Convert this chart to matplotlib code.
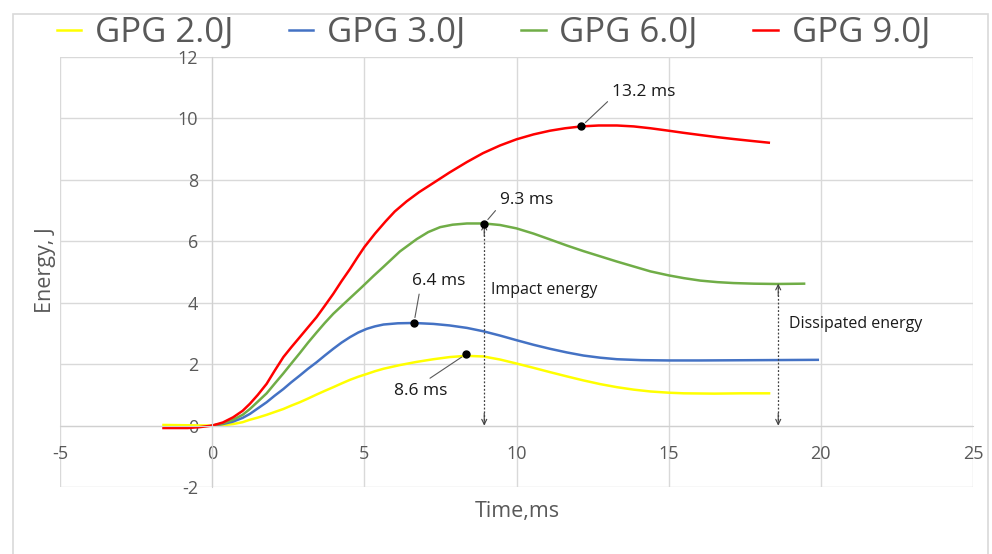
import matplotlib
matplotlib.use('Agg')
import matplotlib.pyplot as plt
from matplotlib.patches import Rectangle

plt.rcParams['font.family'] = ['Open Sans', 'DejaVu Sans']
plt.rcParams['axes.unicode_minus'] = False

# curves (time in ms, energy in J)
yellow_t = [-1.6, -0.8, 0, 0.35, 0.69, 1.0, 1.24, 1.5, 1.79, 2.05, 2.34, 2.6, 2.88, 3.15, 3.43,
            3.7, 3.98, 4.25, 4.53, 4.8, 5.08, 5.35, 5.63, 6.17, 6.7, 7.27, 7.8, 8.35, 8.91, 9.46,
            10.0, 10.56, 11.1, 11.66, 12.2, 12.75, 13.3, 13.85, 14.4, 15.0, 15.5, 16.5, 17.4, 18.3]
yellow_e = [0.02, 0.01, 0, 0.01, 0.05, 0.11, 0.19, 0.26, 0.35, 0.44, 0.54, 0.65, 0.76, 0.88, 1.01,
            1.13, 1.25, 1.37, 1.49, 1.59, 1.68, 1.77, 1.85, 1.97, 2.07, 2.16, 2.23, 2.27, 2.25, 2.15,
            2.02, 1.88, 1.74, 1.60, 1.47, 1.35, 1.25, 1.17, 1.11, 1.07, 1.05, 1.04, 1.05, 1.05]

blue_t = [0, 0.35, 0.69, 1.0, 1.24, 1.5, 1.79, 2.05, 2.34, 2.6, 2.88, 3.15, 3.43, 3.7, 3.98,
          4.25, 4.53, 4.8, 5.08, 5.35, 5.63, 6.1, 6.63, 7.27, 7.8, 8.37, 8.91, 9.46, 10.0, 10.56,
          11.1, 11.66, 12.2, 12.75, 13.3, 14.1, 15.0, 16.0, 18.0, 19.9]
blue_e = [0, 0.05, 0.13, 0.25, 0.38, 0.56, 0.76, 0.97, 1.19, 1.41, 1.63, 1.85, 2.06, 2.28, 2.50,
          2.70, 2.88, 3.03, 3.15, 3.23, 3.29, 3.33, 3.34, 3.31, 3.26, 3.18, 3.07, 2.93, 2.78, 2.63,
          2.50, 2.38, 2.28, 2.21, 2.16, 2.13, 2.12, 2.12, 2.13, 2.14]

green_t = [0, 0.35, 0.69, 1.0, 1.24, 1.5, 1.79, 2.05, 2.34, 2.6, 2.88, 3.15, 3.43, 3.7, 3.98,
           4.4, 4.91, 5.3, 5.63, 6.17, 6.72, 7.1, 7.49, 7.9, 8.37, 8.94, 9.46, 10.0, 10.56, 11.1,
           11.66, 12.2, 12.75, 13.3, 13.85, 14.4, 15.0, 15.5, 16.04, 16.6, 17.13, 17.8, 18.55, 19.45]
green_e = [0, 0.07, 0.19, 0.35, 0.54, 0.78, 1.05, 1.36, 1.7, 2.02, 2.36, 2.7, 3.03, 3.34, 3.64,
           4.03, 4.5, 4.87, 5.17, 5.67, 6.07, 6.3, 6.46, 6.54, 6.58, 6.58, 6.53, 6.42, 6.25, 6.06,
           5.86, 5.68, 5.51, 5.34, 5.18, 5.02, 4.89, 4.8, 4.72, 4.67, 4.64, 4.62, 4.61, 4.62]

red_t = [-1.6, -0.8, -0.4, 0, 0.35, 0.69, 1.0, 1.24, 1.5, 1.79, 2.05, 2.34, 2.6, 2.88, 3.15,
         3.43, 3.7, 3.98, 4.25, 4.53, 4.77, 5.0, 5.35, 5.7, 6.0, 6.39, 6.8, 7.27, 7.8, 8.37,
         8.9, 9.46, 10.0, 10.56, 11.1, 11.6, 12.13, 12.7, 13.3, 13.85, 14.4, 15.0, 15.5, 16.04,
         16.6, 17.13, 17.7, 18.29]
red_e = [-0.08, -0.08, -0.05, 0, 0.1, 0.27, 0.48, 0.71, 1.0, 1.36, 1.78, 2.23, 2.55, 2.88, 3.2,
         3.53, 3.9, 4.29, 4.7, 5.1, 5.47, 5.81, 6.25, 6.65, 6.97, 7.3, 7.6, 7.9, 8.24, 8.58,
         8.87, 9.12, 9.32, 9.48, 9.6, 9.68, 9.74, 9.77, 9.77, 9.74, 9.68, 9.6, 9.53, 9.46,
         9.39, 9.33, 9.27, 9.21]

labels = ['GPG 2.0J', 'GPG 3.0J', 'GPG 6.0J', 'GPG 9.0J']
colors = ['#FFFF00', '#4472C4', '#70AD47', '#FF0000']

# marked peak points and their labels
peak_t = [8.35, 6.63, 8.94, 12.13]
peak_e = [2.33, 3.34, 6.57, 9.74]
peak_txt = ['8.6 ms', '6.4 ms', '9.3 ms', '13.2 ms']

x_ticks = [-5, 0, 5, 10, 15, 20, 25]
y_ticks = [-2, 0, 2, 4, 6, 8, 10, 12]

fig = plt.figure(figsize=(9.92, 5.54), dpi=100)
ax = fig.add_axes([60/992, 67/554, 913/992, 430/554])

# chart area border
fig.patches.append(Rectangle((13/992, -0.05), 975/992, 1.05 - 14/554, transform=fig.transFigure,
                             fill=False, edgecolor='#d9d9d9', lw=1.2))

series = [(yellow_t, yellow_e), (blue_t, blue_e), (green_t, green_e), (red_t, red_e)]
for (t, e), lab, c in zip(series, labels, colors):
    ax.plot(t, e, color=c, lw=1.8, label=lab, solid_joinstyle='round')

ax.plot(peak_t, peak_e, 'o', color='black', ms=5, zorder=5)

ax.set_xlim(-5, 25)
ax.set_ylim(-2, 12)
ax.set_xticks(x_ticks)
ax.set_yticks(y_ticks)
ax.grid(True, color='#d9d9d9', lw=1)
ax.set_axisbelow(True)
for s in ['top', 'right']:
    ax.spines[s].set_visible(False)
ax.spines['left'].set_position(('data', 0))
ax.spines['bottom'].set_position(('data', 0))
ax.spines['left'].set_color('#d0d0d0')
ax.spines['bottom'].set_color('#d0d0d0')
ax.tick_params(axis='both', length=0, labelsize=13, labelcolor='#595959')
ax.tick_params(axis='y', pad=10)
ax.tick_params(axis='x', pad=14)

# leader lines for the peak labels
txt_pos = [(5.98, 1.14), (6.57, 4.72), (9.46, 7.33), (13.15, 10.85)]
rel = [(0.55, 1.0), (0.15, 0.0), (0.0, 0.2), (0.0, 0.2)]
for t, e, s, p, r in zip(peak_t, peak_e, peak_txt, txt_pos, rel):
    ax.annotate(s, xy=(t, e), xytext=p, ha='left', va='center', fontsize=12.5, color='#1a1a1a',
                arrowprops=dict(arrowstyle='-', color='#595959', lw=0.8, shrinkA=2, shrinkB=4, relpos=r))

# impact / dissipated energy arrows
arrow_x = [8.94, 18.6]
arrow_top = [6.57, 4.62]
for x, top in zip(arrow_x, arrow_top):
    ax.vlines(x, 0.05, top - 0.05, colors='#404040', linestyles=(0, (1.5, 1.5)), lw=0.9)
    ax.annotate('', xy=(x, top), xytext=(x, top - 0.4),
                arrowprops=dict(arrowstyle='->', color='#404040', lw=0.8, mutation_scale=9,
                                shrinkA=0, shrinkB=0))
    ax.annotate('', xy=(x, 0), xytext=(x, 0.4),
                arrowprops=dict(arrowstyle='->', color='#404040', lw=0.8, mutation_scale=9,
                                shrinkA=0, shrinkB=0))

ax.text(9.17, 4.43, 'Impact energy', fontsize=11.5, color='#1a1a1a', va='center', ha='left')
ax.text(18.95, 3.31, 'Dissipated energy', fontsize=11.5, color='#1a1a1a', va='center', ha='left')

fig.text(45/992, 1 - 270/554, 'Energy, J', rotation=90, ha='center', va='center',
         fontsize=15.5, color='#595959')
fig.text(517/992, 1 - 512/554, 'Time,ms', ha='center', va='center', fontsize=15.5, color='#595959')

fig.legend(loc='center', bbox_to_anchor=(0.4975, 1 - 33/554), ncol=4, frameon=False,
           fontsize=25, labelcolor='#595959', handlelength=0.7, handletextpad=0.4,
           columnspacing=1.6)

fig.savefig('out.png', dpi=100)
